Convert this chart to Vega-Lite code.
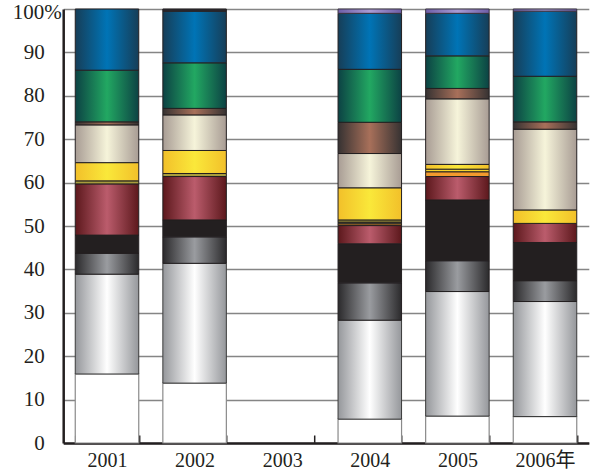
{
  "$schema": "https://vega.github.io/schema/vega-lite/v6.json",
  "width": 525.6,
  "height": 434,
  "autosize": {"type": "none"},
  "padding": {"left": 63.2, "top": 9, "right": 1.2, "bottom": 29},
  "background": "#ffffff",
  "config": {"view": {"stroke": null}},
  "datasets": {
    "ranks": [
      {"series": "white", "rank": 1},
      {"series": "silver", "rank": 2},
      {"series": "darkgrey", "rank": 3},
      {"series": "black", "rank": 4},
      {"series": "red", "rank": 5},
      {"series": "orange", "rank": 6},
      {"series": "darkolive", "rank": 7},
      {"series": "olive", "rank": 8},
      {"series": "gold", "rank": 9},
      {"series": "yellow", "rank": 10},
      {"series": "cream", "rank": 11},
      {"series": "brown", "rank": 12},
      {"series": "green", "rank": 13},
      {"series": "blue", "rank": 14},
      {"series": "purple", "rank": 15},
      {"series": "slate", "rank": 16}
    ],
    "shares": [
      {"year": "2001", "series": "white", "pct": 15.9},
      {"year": "2001", "series": "silver", "pct": 23.0},
      {"year": "2001", "series": "darkgrey", "pct": 4.8},
      {"year": "2001", "series": "black", "pct": 4.2},
      {"year": "2001", "series": "red", "pct": 11.8},
      {"year": "2001", "series": "olive", "pct": 0.7},
      {"year": "2001", "series": "yellow", "pct": 4.2},
      {"year": "2001", "series": "cream", "pct": 8.7},
      {"year": "2001", "series": "brown", "pct": 0.7},
      {"year": "2001", "series": "green", "pct": 11.9},
      {"year": "2001", "series": "blue", "pct": 14.1},

      {"year": "2002", "series": "white", "pct": 13.8},
      {"year": "2002", "series": "silver", "pct": 27.6},
      {"year": "2002", "series": "darkgrey", "pct": 6.1},
      {"year": "2002", "series": "black", "pct": 3.9},
      {"year": "2002", "series": "red", "pct": 10.0},
      {"year": "2002", "series": "olive", "pct": 0.7},
      {"year": "2002", "series": "yellow", "pct": 5.3},
      {"year": "2002", "series": "cream", "pct": 8.2},
      {"year": "2002", "series": "brown", "pct": 1.5},
      {"year": "2002", "series": "green", "pct": 10.5},
      {"year": "2002", "series": "blue", "pct": 11.9},
      {"year": "2002", "series": "slate", "pct": 0.5},

      {"year": "2004", "series": "white", "pct": 5.5},
      {"year": "2004", "series": "silver", "pct": 22.8},
      {"year": "2004", "series": "darkgrey", "pct": 8.6},
      {"year": "2004", "series": "black", "pct": 9.0},
      {"year": "2004", "series": "red", "pct": 4.2},
      {"year": "2004", "series": "orange", "pct": 0.4},
      {"year": "2004", "series": "darkolive", "pct": 0.4},
      {"year": "2004", "series": "olive", "pct": 0.5},
      {"year": "2004", "series": "yellow", "pct": 7.4},
      {"year": "2004", "series": "cream", "pct": 7.9},
      {"year": "2004", "series": "brown", "pct": 7.2},
      {"year": "2004", "series": "green", "pct": 12.2},
      {"year": "2004", "series": "blue", "pct": 12.9},
      {"year": "2004", "series": "purple", "pct": 1.0},

      {"year": "2005", "series": "white", "pct": 6.2},
      {"year": "2005", "series": "silver", "pct": 28.7},
      {"year": "2005", "series": "darkgrey", "pct": 7.1},
      {"year": "2005", "series": "black", "pct": 14.0},
      {"year": "2005", "series": "red", "pct": 5.4},
      {"year": "2005", "series": "orange", "pct": 1.1},
      {"year": "2005", "series": "gold", "pct": 0.6},
      {"year": "2005", "series": "yellow", "pct": 1.1},
      {"year": "2005", "series": "cream", "pct": 15.1},
      {"year": "2005", "series": "brown", "pct": 2.4},
      {"year": "2005", "series": "green", "pct": 7.5},
      {"year": "2005", "series": "blue", "pct": 9.8},
      {"year": "2005", "series": "purple", "pct": 1.0},

      {"year": "2006", "series": "white", "pct": 6.1},
      {"year": "2006", "series": "silver", "pct": 26.5},
      {"year": "2006", "series": "darkgrey", "pct": 4.8},
      {"year": "2006", "series": "black", "pct": 8.8},
      {"year": "2006", "series": "red", "pct": 4.4},
      {"year": "2006", "series": "yellow", "pct": 3.1},
      {"year": "2006", "series": "cream", "pct": 18.6},
      {"year": "2006", "series": "brown", "pct": 1.7},
      {"year": "2006", "series": "green", "pct": 10.5},
      {"year": "2006", "series": "blue", "pct": 15.0},
      {"year": "2006", "series": "purple", "pct": 0.5}
    ]
  },
  "data": {"name": "shares"},
  "transform": [
    {"lookup": "series", "from": {"data": {"name": "ranks"}, "key": "series", "fields": ["rank"]}},
    {"stack": "pct", "groupby": ["year"], "sort": [{"field": "rank", "order": "ascending"}], "as": ["y0", "y1"]}
  ],
  "encoding": {
    "x": {
      "field": "year",
      "type": "nominal",
      "scale": {"domain": ["2001", "2002", "2003", "2004", "2005", "2006"], "paddingInner": 0.275, "paddingOuter": 0.1375},
      "axis": {
        "title": null,
        "labelAngle": 0,
        "labelExpr": "datum.value == '2006' ? '2006年' : datum.value",
        "labelFont": "Liberation Serif, Noto Sans CJK SC",
        "labelFontSize": 20,
        "labelColor": "#231f20",
        "labelPadding": 7,
        "ticks": false,
        "tickBand": "extent",
        "grid": true,
        "gridColor": "#231f20",
        "gridWidth": 1.5,
        "gridDash": [0, 426, 8, 1000],
        "domainColor": "#231f20",
        "domainWidth": 2.5
      }
    },
    "y": {
      "field": "y0",
      "type": "quantitative",
      "scale": {"domain": [0, 100], "nice": false},
      "axis": {
        "title": null,
        "values": [0, 10, 20, 30, 40, 50, 60, 70, 80, 90, 100],
        "labelExpr": "datum.value == 100 ? '100%' : datum.value",
        "labelFont": "Liberation Serif",
        "labelFontSize": 21,
        "labelColor": "#231f20",
        "labelPadding": {"condition": {"test": "datum.value == 100", "value": 2}, "value": 19},
        "labelOffset": {"condition": {"test": "datum.value == 100", "value": 3}, "value": 0},
        "ticks": false,
        "domainColor": "#231f20",
        "domainWidth": 2.5,
        "grid": true,
        "gridColor": "#858585",
        "gridWidth": 1.5
      }
    },
    "y2": {"field": "y1"}
  },
  "layer": [
    {
      "transform": [{"filter": "datum.series == 'white'"}],
      "mark": {"type": "bar", "fill": "#ffffff", "stroke": "#8a8a8a", "strokeWidth": 1.2}
    },
    {
      "transform": [{"filter": "datum.series == 'silver'"}],
      "mark": {"type": "bar", "stroke": "#3a3a3a", "strokeWidth": 1,
        "fill": {"gradient": "linear", "x1": 0, "y1": 0, "x2": 1, "y2": 0,
          "stops": [{"offset": 0, "color": "#95979b"}, {"offset": 0.5, "color": "#ffffff"}, {"offset": 1, "color": "#95979b"}]}}
    },
    {
      "transform": [{"filter": "datum.series == 'darkgrey'"}],
      "mark": {"type": "bar", "stroke": "#231f20", "strokeWidth": 1,
        "fill": {"gradient": "linear", "x1": 0, "y1": 0, "x2": 1, "y2": 0,
          "stops": [{"offset": 0, "color": "#2b2a2c"}, {"offset": 0.5, "color": "#9a9ca0"}, {"offset": 1, "color": "#2b2a2c"}]}}
    },
    {
      "transform": [{"filter": "datum.series == 'black'"}],
      "mark": {"type": "bar", "fill": "#231f20", "stroke": "#231f20", "strokeWidth": 1}
    },
    {
      "transform": [{"filter": "datum.series == 'red'"}],
      "mark": {"type": "bar", "stroke": "#231f20", "strokeWidth": 1,
        "fill": {"gradient": "linear", "x1": 0, "y1": 0, "x2": 1, "y2": 0,
          "stops": [{"offset": 0, "color": "#5c181c"}, {"offset": 0.5, "color": "#bb5c6c"}, {"offset": 1, "color": "#5c181c"}]}}
    },
    {
      "transform": [{"filter": "datum.series == 'orange'"}],
      "mark": {"type": "bar", "fill": "#f29a2e", "stroke": "#231f20", "strokeWidth": 1}
    },
    {
      "transform": [{"filter": "datum.series == 'darkolive'"}],
      "mark": {"type": "bar", "fill": "#6e6a34", "stroke": "#231f20", "strokeWidth": 1}
    },
    {
      "transform": [{"filter": "datum.series == 'olive'"}],
      "mark": {"type": "bar", "fill": "#a89c3c", "stroke": "#231f20", "strokeWidth": 1}
    },
    {
      "transform": [{"filter": "datum.series == 'gold'"}],
      "mark": {"type": "bar", "fill": "#f6d52c", "stroke": "#231f20", "strokeWidth": 1}
    },
    {
      "transform": [{"filter": "datum.series == 'yellow'"}],
      "mark": {"type": "bar", "stroke": "#231f20", "strokeWidth": 1,
        "fill": {"gradient": "linear", "x1": 0, "y1": 0, "x2": 1, "y2": 0,
          "stops": [{"offset": 0, "color": "#f2c02a"}, {"offset": 0.5, "color": "#fae83a"}, {"offset": 1, "color": "#f2c02a"}]}}
    },
    {
      "transform": [{"filter": "datum.series == 'cream'"}],
      "mark": {"type": "bar", "stroke": "#231f20", "strokeWidth": 1,
        "fill": {"gradient": "linear", "x1": 0, "y1": 0, "x2": 1, "y2": 0,
          "stops": [{"offset": 0, "color": "#a89c94"}, {"offset": 0.5, "color": "#f6f4da"}, {"offset": 1, "color": "#a89c94"}]}}
    },
    {
      "transform": [{"filter": "datum.series == 'brown'"}],
      "mark": {"type": "bar", "stroke": "#231f20", "strokeWidth": 1,
        "fill": {"gradient": "linear", "x1": 0, "y1": 0, "x2": 1, "y2": 0,
          "stops": [{"offset": 0, "color": "#363232"}, {"offset": 0.5, "color": "#a8705a"}, {"offset": 1, "color": "#363232"}]}}
    },
    {
      "transform": [{"filter": "datum.series == 'green'"}],
      "mark": {"type": "bar", "stroke": "#231f20", "strokeWidth": 1,
        "fill": {"gradient": "linear", "x1": 0, "y1": 0, "x2": 1, "y2": 0,
          "stops": [{"offset": 0, "color": "#0c4244"}, {"offset": 0.5, "color": "#22a862"}, {"offset": 1, "color": "#0c4244"}]}}
    },
    {
      "transform": [{"filter": "datum.series == 'blue'"}],
      "mark": {"type": "bar", "stroke": "#231f20", "strokeWidth": 1,
        "fill": {"gradient": "linear", "x1": 0, "y1": 0, "x2": 1, "y2": 0,
          "stops": [{"offset": 0, "color": "#163e58"}, {"offset": 0.5, "color": "#0074b6"}, {"offset": 1, "color": "#163e58"}]}}
    },
    {
      "transform": [{"filter": "datum.series == 'purple'"}],
      "mark": {"type": "bar", "stroke": "#3a3440", "strokeWidth": 1,
        "fill": {"gradient": "linear", "x1": 0, "y1": 0, "x2": 1, "y2": 0,
          "stops": [{"offset": 0, "color": "#6e5ea8"}, {"offset": 0.5, "color": "#aa9cd4"}, {"offset": 1, "color": "#6e5ea8"}]}}
    },
    {
      "transform": [{"filter": "datum.series == 'slate'"}],
      "mark": {"type": "bar", "fill": "#2c2a30", "stroke": "#231f20", "strokeWidth": 1}
    }
  ]
}
